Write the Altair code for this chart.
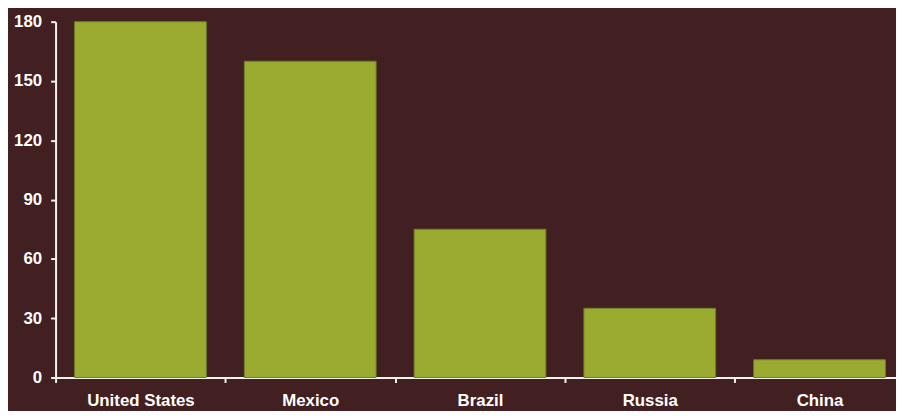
import altair as alt
import pandas as pd

countries = ["United States", "Mexico", "Brazil", "Russia", "China"]
values = [180, 160, 75, 35, 9]
y_ticks = [0, 30, 60, 90, 120, 150, 180]

df = pd.DataFrame({"country": countries, "value": values})

BG = "#421f21"
BAR = "#9aab30"

chart = (
    alt.Chart(df)
    .mark_bar(color=BAR, stroke="#6f7c27", strokeWidth=1, width=alt.RelativeBandSize(0.776))
    .encode(
        x=alt.X(
            "country:N",
            sort=countries,
            title=None,
            scale=alt.Scale(range=[0, 856.5], paddingInner=0, paddingOuter=0),
            axis=alt.Axis(
                labelAngle=0,
                labelFont="Liberation Sans",
                labelFontWeight="bold",
                labelFontSize=17,
                labelColor="#ffffff",
                labelPadding=10,
                tickBand="extent",
                tickSize=5,
                tickColor="#f2f2ee",
                tickWidth=2,
                domainColor="#f2f2ee",
                domainWidth=2,
            ),
        ),
        y=alt.Y(
            "value:Q",
            title=None,
            scale=alt.Scale(domain=[0, 180], nice=False),
            axis=alt.Axis(
                values=y_ticks,
                labelFont="Liberation Sans",
                labelFontWeight="bold",
                labelFontSize=17,
                labelColor="#ffffff",
                labelPadding=9,
                tickSize=5,
                tickColor="#f2f2ee",
                tickWidth=2,
                domainColor="#f2f2ee",
                domainWidth=2,
                grid=False,
            ),
        ),
    )
    .properties(
        width=848,
        height=359,
        background=BG,
        padding={"left": 48, "top": 12, "right": 0, "bottom": 32},
        autosize=alt.AutoSizeParams(type="none"),
    )
    .configure_view(stroke=None)
)

chart.save("out.html", embed_options={"renderer": "svg", "actions": False})
